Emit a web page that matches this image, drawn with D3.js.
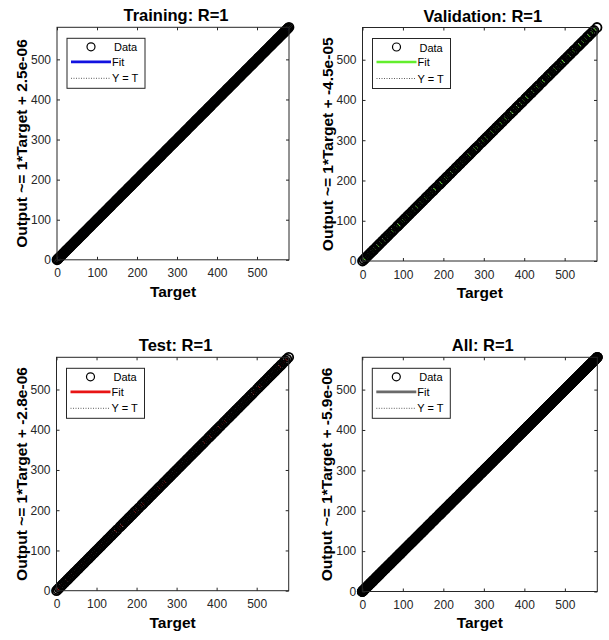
<!DOCTYPE html>
<meta charset="utf-8">
<script src="https://d3js.org/d3.v7.min.js"></script>
<style>
  body { margin: 0; background: #fff; }
  text { font-family: "Liberation Sans", Arial, sans-serif; }
</style>
<div id="chart"></div>
<script>

// targets (outputs sit on Y = T, R = 1)
var trainTargets = [0, 1.8, 4.3, 6.9, 9.2, 11.8, 14.5, 16.7, 19.4, 22.1, 24.6, 27.0, 29.8, 32.3, 34.7, 37.5, 40.1, 42.4, 45.2, 47.9,
  50.3, 52.8, 55.6, 58.0, 60.7, 63.3, 65.8, 68.5, 71.0, 73.6, 76.2, 78.7, 81.5, 84.0, 86.4, 89.2, 91.9, 94.3, 96.8, 99.6,
  102.1, 104.7, 107.3, 109.8, 112.6, 115.1, 117.5, 120.3, 122.9, 125.4, 128.0, 130.7, 133.2, 135.8, 138.5, 141.0, 143.6, 146.2, 148.7,
  151.5, 154.0, 156.4, 159.2, 161.8, 164.3, 167.0, 169.6, 172.1, 174.8, 177.4, 179.9, 182.6, 185.1, 187.7, 190.4, 192.9, 195.5, 198.2,
  200.7, 203.3, 206.0, 208.5, 211.1, 213.8, 216.3, 218.9, 221.6, 224.1, 226.7, 229.4, 231.9, 234.5, 237.2, 239.7, 242.3, 245.0, 247.5,
  250.1, 252.8, 255.3, 257.9, 260.6, 263.1, 265.7, 268.4, 270.9, 273.5, 276.2, 278.7, 281.3, 284.0, 286.5, 289.1, 291.8, 294.3, 296.9,
  299.6, 302.1, 304.7, 307.4, 309.9, 312.5, 315.2, 317.7, 320.3, 323.0, 325.5, 328.1, 330.8, 333.3, 335.9, 338.6, 341.1, 343.7, 346.4,
  348.9, 351.5, 354.2, 356.7, 359.3, 362.0, 364.5, 367.1, 369.8, 372.3, 374.9, 377.6, 380.1, 382.7, 385.4, 387.9, 390.5, 393.2, 395.7,
  398.3, 401.0, 403.5, 406.1, 408.8, 411.3, 413.9, 416.6, 419.1, 421.7, 424.4, 426.9, 429.5, 432.2, 434.7, 437.3, 440.0, 442.5, 445.1,
  447.8, 450.3, 452.9, 455.6, 458.1, 460.7, 463.4, 465.9, 468.5, 471.2, 473.7, 476.3, 479.0, 481.5, 484.1, 486.8, 489.3, 491.9, 494.6,
  497.1, 499.7, 502.4, 504.9, 507.5, 510.2, 512.7, 515.3, 518.0, 520.5, 523.1, 525.8, 528.3, 530.9, 533.6, 536.1, 538.7, 541.4, 543.9,
  546.5, 549.2, 551.7, 554.3, 557.0, 559.5, 562.1, 564.8, 567.3, 569.9, 572.6, 575.1, 577.6, 580];

var valTargets = [0, 3.5, 7.2, 10.1, 14.6, 17.9, 21.3, 25.8, 28.4, 32.9, 36.1, 39.7, 43.0, 47.8, 50.2, 54.6, 57.3, 61.9, 64.5, 68.2,
  72.7, 75.1, 79.6, 85.4, 88.0, 91.7, 95.2, 99.8, 103.1, 106.5, 110.9, 113.6, 117.2, 121.8, 124.3, 128.9, 132.0, 135.7, 139.4, 143.8,
  146.5, 150.1, 154.6, 157.3, 161.0, 165.7, 168.2, 172.8, 175.5, 179.0, 183.6, 189.8, 192.3, 196.0, 199.5, 204.1, 207.7, 210.4, 214.9,
  218.2, 221.8, 225.3, 229.7, 232.4, 236.0, 240.5, 243.2, 247.8, 250.6, 254.1, 258.7, 261.4, 265.0, 268.6, 273.2, 276.9, 279.5, 283.0,
  287.6, 293.8, 296.4, 300.9, 303.6, 307.1, 310.8, 315.4, 318.0, 321.6, 325.1, 329.7, 332.4, 336.8, 340.3, 343.9, 347.5, 352.0, 354.7,
  358.3, 364.5, 367.2, 370.8, 374.3, 378.9, 381.6, 385.2, 388.7, 393.3, 396.0, 401.9, 404.6, 408.2, 411.7, 416.3, 419.0, 422.6, 426.1,
  430.7, 433.4, 437.0, 442.8, 445.5, 449.0, 452.6, 457.1, 459.8, 463.4, 466.9, 471.5, 474.2, 477.8, 481.3, 485.9, 491.6, 494.3, 497.9,
  501.4, 506.0, 508.7, 512.3, 515.8, 520.4, 523.1, 526.7, 532.5, 535.2, 538.8, 542.3, 546.9, 549.6, 555.4, 558.1, 561.7, 565.2, 569.8,
  572.5, 580];

var testTargets = [0, 2.9, 6.4, 9.8, 13.5, 16.2, 20.7, 24.1, 27.6, 31.2, 34.9, 38.3, 41.8, 45.4, 49.0, 52.7, 56.1, 59.6, 63.2, 66.8,
  70.4, 73.9, 77.5, 81.1, 84.6, 88.2, 91.8, 95.3, 98.9, 102.5, 106.0, 109.6, 113.2, 116.7, 120.3, 123.9, 127.4, 131.0, 134.6, 138.1,
  141.7, 145.3, 148.8, 152.4, 158.6, 161.3, 164.9, 168.4, 172.0, 175.6, 179.1, 182.7, 186.3, 189.8, 193.4, 197.0, 200.5, 205.9, 211.8,
  214.5, 218.1, 221.6, 225.2, 228.8, 232.3, 235.9, 239.5, 243.0, 246.6, 250.2, 253.7, 257.3, 260.9, 266.2, 269.8, 273.3, 276.9, 280.5,
  284.0, 287.6, 291.2, 294.7, 298.3, 301.9, 305.4, 309.0, 312.6, 316.1, 319.7, 323.3, 326.8, 330.4, 334.0, 337.5, 341.1, 344.7, 348.2,
  351.8, 355.4, 358.9, 362.5, 366.1, 369.6, 373.2, 378.8, 382.3, 385.9, 389.5, 393.0, 396.6, 400.2, 403.7, 407.3, 410.9, 416.5, 420.0,
  423.6, 427.2, 430.7, 434.3, 437.9, 441.4, 445.0, 448.6, 452.1, 455.7, 459.3, 462.8, 466.4, 470.0, 473.5, 477.1, 480.7, 484.2, 487.8,
  491.4, 494.9, 500.7, 505.3, 508.9, 512.4, 516.0, 519.6, 523.1, 526.7, 530.3, 533.8, 537.4, 541.0, 544.5, 548.1, 551.7, 555.2, 558.8,
  562.4, 568.2, 571.5, 575.3, 580];

// "All" is every sample together
var allTargets = trainTargets.concat(valTargets, testTargets);

var titles = ["Training: R=1", "Validation: R=1", "Test: R=1", "All: R=1"];
var yLabels = ["Output ~= 1*Target + 2.5e-06", "Output ~= 1*Target + -4.5e-05",
               "Output ~= 1*Target + -2.8e-06", "Output ~= 1*Target + -5.9e-06"];
var fitSlope = [1, 1, 1, 1];
var fitIntercept = [2.5e-06, -4.5e-05, -2.8e-06, -5.9e-06];
var fitColors = ["#1212e0", "#62ee2c", "#e81414", "#6a6a6a"];
var legendLabels = ["Data", "Fit", "Y = T"];
var tickValues = [0, 100, 200, 300, 400, 500];
var axisRange = [0, 580];

var datasets = [trainTargets, valTargets, testTargets, allTargets];

// panel boxes in the 609x640 window
var panels = [
  {x: 57,    y: 27.3,  w: 232,   h: 232.5},
  {x: 362.5, y: 27.5,  w: 234.5, h: 233.5},
  {x: 56.5,  y: 357.3, w: 232.2, h: 233.4},
  {x: 362.3, y: 357.3, w: 235,   h: 234.2}
];

var svg = d3.select("#chart")
  .append("svg")
    .attr("width", 609)
    .attr("height", 640);

var frameColor = "#262626";

panels.forEach(function(p, i) {
  var g = svg.append("g")
    .attr("transform", "translate(" + p.x + "," + p.y + ")");

  var x = d3.scaleLinear().domain(axisRange).range([0, p.w]);
  var y = d3.scaleLinear().domain(axisRange).range([p.h, 0]);

  // fit line
  g.append("line")
    .attr("x1", x(axisRange[0])).attr("y1", y(fitSlope[i] * axisRange[0] + fitIntercept[i]))
    .attr("x2", x(axisRange[1])).attr("y2", y(fitSlope[i] * axisRange[1] + fitIntercept[i]))
    .attr("stroke", fitColors[i])
    .attr("stroke-width", 2.5);

  // Y = T
  g.append("line")
    .attr("x1", x(axisRange[0])).attr("y1", y(axisRange[0]))
    .attr("x2", x(axisRange[1])).attr("y2", y(axisRange[1]))
    .attr("stroke", "#000")
    .attr("stroke-width", 0.8)
    .attr("stroke-dasharray", "1,1.5");

  // data circles
  g.selectAll("circle.data")
    .data(datasets[i])
    .enter()
    .append("circle")
      .attr("class", "data")
      .attr("cx", function(d) { return x(d); })
      .attr("cy", function(d) { return y(d); })
      .attr("r", 4.5)
      .attr("fill", "none")
      .attr("stroke", "#000")
      .attr("stroke-width", 1.8);

  // frame
  g.append("rect")
    .attr("width", p.w).attr("height", p.h)
    .attr("fill", "none")
    .attr("stroke", frameColor)
    .attr("stroke-width", 1);

  // axes, ticks pointing inward
  var xAxis = g.append("g")
    .attr("transform", "translate(0," + p.h + ")")
    .call(d3.axisBottom(x).tickValues(tickValues).tickSizeInner(-3).tickSizeOuter(0).tickPadding(9));
  var yAxis = g.append("g")
    .call(d3.axisLeft(y).tickValues(tickValues).tickSizeInner(-3).tickSizeOuter(0).tickPadding(6));
  var xTop = g.append("g")
    .call(d3.axisTop(x).tickValues(tickValues).tickSizeInner(-3).tickSizeOuter(0).tickFormat(""));
  var yRight = g.append("g")
    .attr("transform", "translate(" + p.w + ",0)")
    .call(d3.axisRight(y).tickValues(tickValues).tickSizeInner(-3).tickSizeOuter(0).tickFormat(""));

  [xAxis, yAxis, xTop, yRight].forEach(function(a) {
    a.select(".domain").remove();
    a.selectAll("line").attr("stroke", frameColor);
    a.selectAll("text")
      .attr("fill", frameColor)
      .style("font-size", "12px")
      .style("font-family", "'Liberation Sans', Arial, sans-serif");
  });

  // title
  g.append("text")
    .attr("x", p.w / 2 + 3)
    .attr("y", -6)
    .attr("text-anchor", "middle")
    .style("font-size", "16.5px")
    .style("font-weight", "bold")
    .attr("fill", "#000")
    .text(titles[i]);

  // x label
  g.append("text")
    .attr("x", p.w / 2)
    .attr("y", p.h + 37)
    .attr("text-anchor", "middle")
    .style("font-size", "15.5px")
    .style("font-weight", "bold")
    .attr("fill", "#000")
    .text("Target");

  // y label
  g.append("text")
    .attr("transform", "translate(-30," + (p.h / 2) + ") rotate(-90)")
    .attr("text-anchor", "middle")
    .style("font-size", "15.5px")
    .style("font-weight", "bold")
    .attr("fill", "#000")
    .text(yLabels[i]);

  // legend
  var lg = g.append("g").attr("transform", "translate(10,11)");
  lg.append("rect")
    .attr("width", 78).attr("height", 50)
    .attr("fill", "#fff")
    .attr("stroke", frameColor)
    .attr("stroke-width", 1);
  lg.append("circle")
    .attr("cx", 24).attr("cy", 8.5).attr("r", 4)
    .attr("fill", "none").attr("stroke", "#000").attr("stroke-width", 1.2);
  lg.append("line")
    .attr("x1", 4).attr("x2", 44).attr("y1", 23.5).attr("y2", 23.5)
    .attr("stroke", fitColors[i]).attr("stroke-width", 2.7);
  lg.append("line")
    .attr("x1", 4).attr("x2", 44).attr("y1", 40).attr("y2", 40)
    .attr("stroke", "#333").attr("stroke-width", 0.8).attr("stroke-dasharray", "1,1.5");
  lg.selectAll("text.leg")
    .data(legendLabels)
    .enter()
    .append("text")
      .attr("class", "leg")
      .attr("x", function(d, k) { return k === 0 ? 47 : 45; })
      .attr("y", function(d, k) { return [13, 27.5, 44][k]; })
      .style("font-size", "11px")
      .attr("fill", "#000")
      .text(function(d) { return d; });
});

</script>
